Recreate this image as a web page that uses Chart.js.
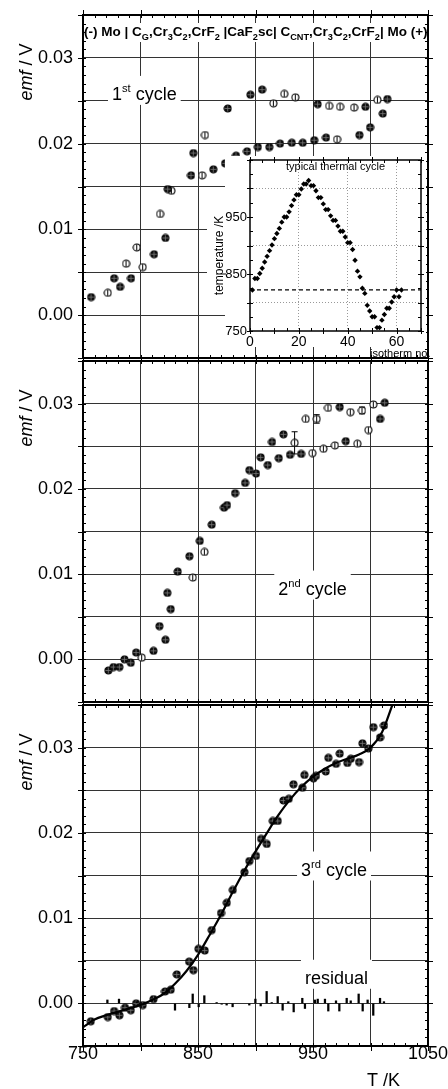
<!DOCTYPE html>
<html>
<head>
<meta charset="utf-8">
<script src="https://cdn.jsdelivr.net/npm/chart.js@4.4.1/dist/chart.umd.min.js"></script>
<style>
html, body { margin: 0; padding: 0; background: #fff; }
#wrap { position: relative; width: 448px; height: 1089px; overflow: hidden; background: #fff; }
#wrap canvas { position: absolute; left: 0; }
</style>
</head>
<body>
<div id="wrap">
  <canvas id="c1" width="448" height="362" style="top:0;width:448px;height:362px"></canvas>
  <canvas id="c2" width="448" height="349" style="top:357px;width:448px;height:349px"></canvas>
  <canvas id="c3" width="448" height="388" style="top:701px;width:448px;height:388px"></canvas>
  <canvas id="inset" width="232" height="212" style="left:200px;top:150px;width:232px;height:212px"></canvas>
</div>
<script>
// ---- data (T in K, emf in V) ----
// 1st cycle: filled markers / open markers
var c1FillT = [757.0, 777.0, 782.2, 791.7, 811.7, 821.6, 823.6, 843.9, 845.9, 863.3, 873.5, 875.8, 883.0, 892.6, 895.5, 902.0, 905.7, 912.0, 921.3, 931.5, 941.0, 951.0, 954.0, 961.3, 990.3, 995.5, 999.6, 1010.6, 1014.6];
var c1FillV = [0.0021, 0.0043, 0.0033, 0.0043, 0.0071, 0.0090, 0.0147, 0.0163, 0.0189, 0.0170, 0.0177, 0.0241, 0.0186, 0.0191, 0.0257, 0.0196, 0.0263, 0.0196, 0.0200, 0.0201, 0.0201, 0.0204, 0.0246, 0.0207, 0.0210, 0.0243, 0.0219, 0.0235, 0.0252];
var c1OpenT = [771.5, 787.4, 796.7, 801.9, 817.0, 826.8, 853.5, 856.0, 915.5, 925.0, 934.6, 964.0, 970.9, 973.5, 985.7, 1006.0];
var c1OpenV = [0.0026, 0.0060, 0.0079, 0.0056, 0.0118, 0.0145, 0.0163, 0.0210, 0.0247, 0.0258, 0.0254, 0.0244, 0.0205, 0.0243, 0.0242, 0.0251];

// 2nd cycle
var c2FillT = [772.0, 776.4, 781.6, 786.0, 791.5, 796.1, 811.2, 816.4, 821.6, 823.3, 826.2, 832.3, 842.5, 851.5, 861.9, 872.6, 875.2, 882.2, 890.9, 894.6, 900.4, 904.5, 910.6, 914.3, 920.2, 924.2, 930.0, 939.6, 973.2, 978.4, 1008.3, 1012.3];
var c2FillV = [-0.0013, -0.0009, -0.0009, 0.0000, -0.0004, 0.0008, 0.0010, 0.0039, 0.0023, 0.0078, 0.0059, 0.0103, 0.0121, 0.0139, 0.0158, 0.0178, 0.0181, 0.0195, 0.0207, 0.0222, 0.0218, 0.0237, 0.0228, 0.0255, 0.0236, 0.0264, 0.0240, 0.0241, 0.0296, 0.0256, 0.0282, 0.0301];
var c2OpenT = [801.0, 845.4, 855.5, 934.0, 943.6, 949.4, 953.2, 959.0, 963.0, 969.0, 982.4, 988.5, 992.6, 998.1, 1002.4];
var c2OpenV = [0.0002, 0.0096, 0.0126, 0.0254, 0.0282, 0.0242, 0.0282, 0.0247, 0.0295, 0.0251, 0.0290, 0.0253, 0.0292, 0.0269, 0.0299];
var c2OpenErr = [0, 0, 0, 0.0013, 0, 0, 0.0005, 0, 0, 0, 0, 0, 0.0004, 0, 0];

// 3rd cycle
var c3T = [756.7, 771.5, 777.0, 781.6, 786.5, 791.5, 796.1, 801.9, 811.2, 821.3, 826.2, 831.5, 842.2, 845.9, 850.3, 855.8, 861.9, 870.0, 875.0, 880.2, 890.3, 894.6, 900.4, 904.8, 909.7, 915.0, 919.3, 924.2, 928.9, 932.9, 940.7, 942.5, 950.3, 952.6, 961.0, 963.3, 970.0, 973.2, 979.8, 982.8, 990.0, 992.9, 998.1, 1002.4, 1008.3, 1011.7];
var c3V = [-0.0021, -0.0016, -0.0009, -0.0014, -0.0005, -0.0008, 0.0000, -0.0002, 0.0005, 0.0014, 0.0016, 0.0034, 0.0049, 0.0039, 0.0064, 0.0062, 0.0086, 0.0106, 0.0118, 0.0133, 0.0154, 0.0167, 0.0173, 0.0193, 0.0187, 0.0214, 0.0214, 0.0238, 0.0240, 0.0257, 0.0253, 0.0268, 0.0264, 0.0267, 0.0272, 0.0288, 0.0281, 0.0293, 0.0282, 0.0287, 0.0283, 0.0305, 0.0299, 0.0324, 0.0312, 0.0326];

// fitted curve through the 3rd cycle
var fitT = [750, 760, 770, 780, 790, 800, 810, 820, 830, 840, 850, 860, 870, 880, 890, 900, 910, 920, 930, 940, 950, 960, 970, 980, 990, 1000, 1010, 1019];
var fitV = [-0.0028, -0.0019, -0.0014, -0.0010, -0.0006, -0.0002, 0.0004, 0.0011, 0.0023, 0.0038, 0.0057, 0.0080, 0.0104, 0.0130, 0.0155, 0.0178, 0.0200, 0.0221, 0.0239, 0.0254, 0.0266, 0.0275, 0.0282, 0.0287, 0.0292, 0.0300, 0.0318, 0.0350];

// residual sticks
var resT = [771.2, 781.3, 796.7, 830.0, 842.5, 845.4, 850.6, 855.5, 866.2, 870.6, 874.9, 880.1, 894.6, 899.9, 904.5, 909.7, 914.1, 919.3, 923.6, 928.5, 933.2, 940.7, 943.0, 951.7, 954.1, 960.4, 963.3, 970.0, 972.9, 979.3, 982.8, 989.7, 993.2, 997.5, 1002.4, 1008.3, 1011.7];
var resV = [0.0004, 0.0005, 0.0002, -0.0008, -0.0005, 0.0011, -0.0004, 0.0009, 0.0001, -0.0001, -0.0002, -0.0004, -0.0002, 0.0005, -0.0003, 0.0014, 0.0001, 0.0008, -0.0008, 0.0002, -0.0010, 0.0006, -0.0006, 0.0004, 0.0005, 0.0005, -0.0009, 0.0003, -0.0009, 0.0006, 0.0003, 0.0011, -0.0009, 0.0004, -0.0014, 0.0006, 0.0002];

// inset: typical thermal cycle
var isoN = [1, 2, 3, 4, 5, 6, 7, 8, 9, 10, 11, 12, 13, 14, 15, 16, 17, 18, 19, 20, 21, 22, 23, 24, 25, 26, 27, 28, 29, 30, 31, 32, 33, 34, 35, 36, 37, 38, 39, 40, 41, 42, 43, 44, 45, 46, 47, 48, 49, 50, 51, 52, 53, 54, 55, 56, 57, 58, 59, 60, 61, 62];
var isoT = [822, 842, 842, 851, 860, 871, 881, 891, 901, 912, 921, 930, 941, 950, 950, 959, 970, 980, 989, 989, 999, 1008, 1008, 1014, 1005, 1005, 996, 984, 984, 973, 963, 963, 952, 944, 944, 934, 925, 925, 915, 905, 905, 893, 874, 855, 845, 825, 816, 795, 785, 775, 775, 756, 756, 769, 779, 790, 790, 801, 810, 822, 810, 822];
var insetRefT = 822;

var yTickLabels = ['0.00', '0.01', '0.02', '0.03'];
var xTickLabels = [750, 850, 950, 1050];

// ---- helpers ----
var FONT = '"Liberation Sans", Arial, Helvetica, sans-serif';
Chart.defaults.font.family = FONT;
Chart.defaults.color = '#000';

function pts(xs, ys) { return xs.map(function(x, i) { return {x: x, y: ys[i]}; }); }

function makeMarker(filled) {
	var c = document.createElement('canvas');
	c.width = 9; c.height = 9;
	var g = c.getContext('2d');
	g.beginPath();
	g.arc(4.5, 4.5, 3.5, 0, 2 * Math.PI);
	g.fillStyle = filled ? '#111' : '#fff';
	g.fill();
	g.lineWidth = 1.1;
	g.strokeStyle = '#000';
	g.stroke();
	g.beginPath();
	g.moveTo(4.5, 1.5); g.lineTo(4.5, 7.5);
	if (filled) { g.moveTo(1.5, 4.5); g.lineTo(7.5, 4.5); }
	g.lineWidth = filled ? 0.8 : 1;
	g.strokeStyle = filled ? '#777' : '#000';
	g.stroke();
	return c;
}
var mFill = makeMarker(true);
var mOpen = makeMarker(false);

// runs: [text, kind] kind 0 normal, 1 subscript, 2 superscript
function runFont(kind, size, bold) {
	var fs = kind === 1 ? size * 0.68 : kind === 2 ? size * 0.62 : size;
	return (bold ? 'bold ' : '') + fs.toFixed(1) + 'px ' + FONT;
}
function runsWidth(ctx, runs, size, bold) {
	var w = 0;
	runs.forEach(function(r) { ctx.font = runFont(r[1], size, bold); w += ctx.measureText(r[0]).width; });
	return w;
}
function drawRuns(ctx, runs, x, y, size, bold) {
	ctx.textAlign = 'left';
	ctx.textBaseline = 'alphabetic';
	runs.forEach(function(r) {
		ctx.font = runFont(r[1], size, bold);
		var dy = r[1] === 1 ? size * 0.28 : r[1] === 2 ? -size * 0.44 : 0;
		ctx.fillText(r[0], x, y + dy);
		x += ctx.measureText(r[0]).width;
	});
}

function isMult(v, step) { var q = v / step; return Math.abs(q - Math.round(q)) < 1e-6; }

function edgeTicks(ctx, xs, ys, a, o) {
	ctx.beginPath();
	var n = Math.round((xs.max - xs.min) / o.xMinor), i, v, p, major;
	for (i = 0; i <= n; i++) {
		v = xs.min + i * o.xMinor;
		p = Math.round(xs.getPixelForValue(v)) + 0.5;
		major = isMult(v, o.xMajor);
		ctx.moveTo(p, a.bottom - o.inLen); ctx.lineTo(p, a.bottom + (major ? o.outLen : 0));
		ctx.moveTo(p, a.top + o.inLen); ctx.lineTo(p, a.top - (major ? o.outLen : 0));
	}
	n = Math.round((ys.max - ys.min) / o.yMinor);
	for (i = 0; i <= n; i++) {
		v = ys.min + i * o.yMinor;
		p = Math.round(ys.getPixelForValue(v)) + 0.5;
		major = isMult(v, o.yMajor);
		ctx.moveTo(a.left + o.inLen, p); ctx.lineTo(a.left - (major ? o.outLen : 0), p);
		ctx.moveTo(a.right - o.inLen, p); ctx.lineTo(a.right + (major ? o.outLen : 0), p);
	}
	ctx.lineWidth = 1;
	ctx.strokeStyle = '#000';
	ctx.stroke();
}

var errorBars = {
	id: 'errorBars',
	beforeDatasetsDraw: function(chart) {
		var ctx = chart.ctx, ys = chart.scales.y;
		ctx.save();
		ctx.strokeStyle = '#000';
		ctx.lineWidth = 1;
		chart.data.datasets.forEach(function(ds, i) {
			if (!ds.errs) return;
			var meta = chart.getDatasetMeta(i);
			meta.data.forEach(function(pt, j) {
				var e = ds.errs[j];
				if (!e) return;
				var y1 = ys.getPixelForValue(ds.data[j].y + e), y2 = ys.getPixelForValue(ds.data[j].y - e);
				ctx.beginPath();
				ctx.moveTo(pt.x, y1); ctx.lineTo(pt.x, y2);
				ctx.moveTo(pt.x - 3, y1); ctx.lineTo(pt.x + 3, y1);
				ctx.moveTo(pt.x - 3, y2); ctx.lineTo(pt.x + 3, y2);
				ctx.stroke();
			});
		});
		ctx.restore();
	}
};

function yTitle(ctx, x, y) {
	ctx.save();
	ctx.translate(x, y);
	ctx.rotate(-Math.PI / 2);
	ctx.textBaseline = 'middle';
	ctx.textAlign = 'left';
	ctx.font = 'italic 18px ' + FONT;
	var w1 = ctx.measureText('emf').width;
	ctx.font = '18px ' + FONT;
	var w2 = ctx.measureText(' / V').width;
	var s = -(w1 + w2) / 2;
	ctx.font = 'italic 18px ' + FONT;
	ctx.fillText('emf', s, 0);
	ctx.font = '18px ' + FONT;
	ctx.fillText(' / V', s + w1, 0);
	ctx.restore();
}

var headerRuns = [['(-) Mo | C', 0], ['G', 1], [',Cr', 0], ['3', 1], ['C', 0], ['2', 1], [',CrF', 0], ['2', 1], [' |CaF', 0], ['2', 1], ['sc| C', 0], ['CNT', 1], [',Cr', 0], ['3', 1], ['C', 0], ['2', 1], [',CrF', 0], ['2', 1], ['| Mo (+)', 0]];

function panelDeco(notes, header, xTitle) {
	return {
		id: 'deco',
		afterDatasetsDraw: function(chart) {
			var ctx = chart.ctx, a = chart.chartArea, xs = chart.scales.x, ys = chart.scales.y;
			ctx.save();
			notes.forEach(function(nt) {
				var x = xs.getPixelForValue(nt.t), y = ys.getPixelForValue(nt.v);
				var w = runsWidth(ctx, nt.runs, 18, false);
				ctx.fillStyle = '#fff';
				ctx.fillRect(x - 4, y - 24, w + 8, 29);
				ctx.fillStyle = '#000';
				drawRuns(ctx, nt.runs, x, y, 18, false);
			});
			if (header) {
				var avail = a.right - a.left - 2;
				var size = 11 * avail / runsWidth(ctx, headerRuns, 11, true);
				ctx.fillStyle = '#fff';
				ctx.fillRect(a.left + 1, a.top + 8, avail, 19);
				ctx.fillStyle = '#000';
				drawRuns(ctx, headerRuns, a.left + 1, a.top + 21, size, true);
			}
			if (xTitle) {
				ctx.font = '18px ' + FONT;
				ctx.textAlign = 'left';
				ctx.textBaseline = 'alphabetic';
				ctx.fillText(xTitle, 367, a.bottom + 40);
			}
			yTitle(ctx, 27, a.top + 57);
			edgeTicks(ctx, xs, ys, a, {xMinor: 10, xMajor: 50, yMinor: 0.001, yMajor: 0.005, inLen: 3, outLen: 5});
			ctx.lineWidth = 2;
			ctx.strokeStyle = '#000';
			ctx.strokeRect(a.left, a.top, a.right - a.left, a.bottom - a.top);
			ctx.restore();
		}
	};
}

function panelChart(id, datasets, o) {
	return new Chart(document.getElementById(id), {
		type: 'scatter',
		data: { datasets: datasets },
		options: {
			responsive: false,
			animation: false,
			devicePixelRatio: 1,
			layout: { padding: { top: o.padTop, bottom: o.padBottom, left: 0, right: 20 } },
			plugins: { legend: { display: false }, tooltip: { enabled: false } },
			scales: {
				x: {
					type: 'linear', min: 750, max: 1050, offset: false,
					grid: { color: '#333', lineWidth: 1, drawTicks: false, offset: false },
					border: { display: false },
					ticks: {
						display: o.xLabels, stepSize: 50, autoSkip: false, maxRotation: 0, padding: -1,
						font: { size: 18, lineHeight: 1 },
						callback: function(v) { return xTickLabels.indexOf(v) >= 0 ? String(v) : ''; }
					},
					afterFit: function(s) { s.height = o.xHeight; s.paddingLeft = 0; s.paddingRight = 0; }
				},
				y: {
					type: 'linear', min: -0.005, max: 0.035,
					grid: { color: '#333', lineWidth: 1, drawTicks: false },
					border: { display: false },
					ticks: {
						stepSize: 0.005, padding: 10, font: { size: 18 },
						callback: function(v) {
							var s = v.toFixed(2);
							return (isMult(v, 0.01) && yTickLabels.indexOf(s) >= 0) ? s : '';
						}
					},
					afterFit: function(s) { s.width = 83; s.paddingTop = 0; s.paddingBottom = 0; }
				}
			}
		},
		plugins: [errorBars, panelDeco(o.notes, o.header, o.xTitle)]
	});
}

function markerSet(data, marker, errs) {
	var ds = { data: data, pointStyle: marker, pointRadius: 4, borderWidth: 0 };
	if (errs) ds.errs = errs;
	return ds;
}

// ---- panel 1 ----
panelChart('c1', [
	markerSet(pts(c1FillT, c1FillV), mFill),
	markerSet(pts(c1OpenT, c1OpenV), mOpen)
], {
	padTop: 15, padBottom: 3, xHeight: 0, xLabels: false, header: true,
	notes: [{ t: 775.2, v: 0.0251, runs: [['1', 0], ['st', 2], [' cycle', 0]] }]
});

// ---- panel 2 ----
panelChart('c2', [
	markerSet(pts(c2FillT, c2FillV), mFill),
	markerSet(pts(c2OpenT, c2OpenV), mOpen, c2OpenErr)
], {
	padTop: 2, padBottom: 3, xHeight: 0, xLabels: false,
	notes: [{ t: 919.8, v: 0.0076, runs: [['2', 0], ['nd', 2], [' cycle', 0]] }]
});

// ---- panel 3 ----
panelChart('c3', [
	{ type: 'bar', data: pts(resT, resV), backgroundColor: '#000', borderWidth: 0, barThickness: 1.6 },
	{ type: 'line', data: pts(fitT, fitV), borderColor: '#000', borderWidth: 2.2, pointRadius: 0,
	  fill: false, tension: 0.4, cubicInterpolationMode: 'monotone' },
	markerSet(pts(c3T, c3V), mFill)
], {
	padTop: 2, padBottom: 0, xHeight: 43, xLabels: true, xTitle: 'T /K',
	notes: [
		{ t: 939.6, v: 0.0150, runs: [['3', 0], ['rd', 2], [' cycle', 0]] },
		{ t: 943.0, v: 0.0023, runs: [['residual', 0]] }
	]
});

// ---- inset ----
var insetDeco = {
	id: 'insetDeco',
	beforeDraw: function(chart) {
		var ctx = chart.ctx, a = chart.chartArea;
		ctx.save();
		ctx.fillStyle = '#fff';
		ctx.fillRect(a.left - 25, a.top - 4, a.right - a.left + 30, a.bottom - a.top + 20);
		ctx.fillRect(7, 50, 24, 92);
		ctx.restore();
	},
	afterDatasetsDraw: function(chart) {
		var ctx = chart.ctx, a = chart.chartArea, xs = chart.scales.x, ys = chart.scales.y;
		ctx.save();
		ctx.fillStyle = '#000';
		ctx.font = '11px ' + FONT;
		ctx.textAlign = 'center';
		ctx.textBaseline = 'middle';
		ctx.fillText('typical thermal cycle', (a.left + a.right) / 2, a.top + 7);
		ctx.textAlign = 'left';
		ctx.textBaseline = 'alphabetic';
		ctx.fillText('isotherm no.', 170, 207);
		ctx.translate(20, (a.top + a.bottom) / 2 + 10);
		ctx.rotate(-Math.PI / 2);
		ctx.font = '12px ' + FONT;
		ctx.textAlign = 'center';
		ctx.textBaseline = 'middle';
		ctx.fillText('temperature /K', 0, 0);
		ctx.restore();
		ctx.save();
		edgeTicks(ctx, xs, ys, a, {xMinor: 5, xMajor: 10, yMinor: 25, yMajor: 50, inLen: 3, outLen: 3});
		ctx.lineWidth = 1.5;
		ctx.strokeStyle = '#000';
		ctx.strokeRect(a.left, a.top, a.right - a.left, a.bottom - a.top);
		ctx.restore();
	}
};

new Chart(document.getElementById('inset'), {
	type: 'scatter',
	data: {
		datasets: [
			{ data: pts(isoN, isoT), pointStyle: 'rectRot', pointRadius: 2.7, backgroundColor: '#000', borderWidth: 0 },
			{ type: 'line', data: [{x: 0, y: insetRefT}, {x: 70, y: insetRefT}], borderColor: '#000', borderWidth: 1.2,
			  borderDash: [4, 3], pointRadius: 0, fill: false }
		]
	},
	options: {
		responsive: false,
		animation: false,
		devicePixelRatio: 1,
		layout: { padding: { top: 10, right: 11, left: 0, bottom: 0 } },
		plugins: { legend: { display: false }, tooltip: { enabled: false } },
		scales: {
			x: {
				type: 'linear', min: 0, max: 70,
				grid: { color: function(c) { return c.tick && c.tick.value > 0 && c.tick.value < 70 ? '#999' : 'rgba(0,0,0,0)'; },
				        lineWidth: 1, drawTicks: false, borderDash: [1, 2] },
				border: { display: false, dash: [1, 2] },
				ticks: { stepSize: 20, padding: 4, autoSkip: false, maxRotation: 0, font: { size: 14, lineHeight: 1 },
				         callback: function(v) { return isMult(v, 20) ? String(v) : ''; } },
				afterFit: function(s) { s.height = 31; s.paddingLeft = 0; s.paddingRight = 0; }
			},
			y: {
				type: 'linear', min: 750, max: 1050,
				grid: { color: function(c) { return c.tick && isMult(c.tick.value, 100) && c.tick.value < 1050 ? '#999' : 'rgba(0,0,0,0)'; },
				        lineWidth: 1, drawTicks: false, borderDash: [1, 2] },
				border: { display: false, dash: [1, 2] },
				ticks: { stepSize: 50, padding: 3, font: { size: 13 },
				         callback: function(v) { return (v % 100 === 50 && v < 1000) ? String(v) : ''; } },
				afterFit: function(s) { s.width = 50; s.paddingTop = 0; s.paddingBottom = 0; }
			}
		}
	},
	plugins: [insetDeco]
});
</script>
</body>
</html>
